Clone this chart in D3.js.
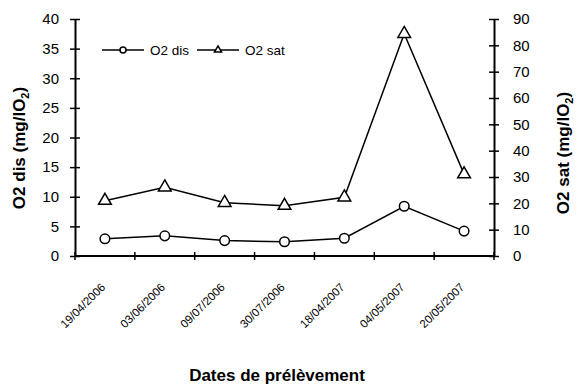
<!DOCTYPE html>
<html>
<head>
<meta charset="utf-8">
<script src="https://cdn.jsdelivr.net/npm/d3@7"></script>
<style>
  html, body { margin: 0; padding: 0; background: #fff; }
  svg { display: block; font-family: "Liberation Sans", Arial, sans-serif; }
</style>
</head>
<body>
<svg id="chart" width="577" height="386"></svg>
<script>
// Sampling dates and measured oxygen values
const dates = ["19/04/2006", "03/06/2006", "09/07/2006", "30/07/2006", "18/04/2007", "04/05/2007", "20/05/2007"];
const o2Dis = [2.9, 3.4, 2.6, 2.4, 3.0, 8.4, 4.2];
const o2Sat = [21.0, 26.1, 20.2, 19.1, 22.3, 84.4, 31.1];
const leftTicks = [0, 5, 10, 15, 20, 25, 30, 35, 40];
const rightTicks = [0, 10, 20, 30, 40, 50, 60, 70, 80, 90];

const svg = d3.select("#chart");
const plot = { left: 75, right: 494, top: 19, bottom: 256 };

const x = d3.scaleBand().domain(dates).range([plot.left, plot.right]);
const yL = d3.scaleLinear().domain([0, 40]).range([plot.bottom, plot.top]);
const yR = d3.scaleLinear().domain([0, 90]).range([plot.bottom, plot.top]);

// Axes: ticks cross the axis line on both sides
function styleAxis(g) {
  g.select(".domain").attr("stroke", "#000").attr("stroke-width", 2);
  g.selectAll(".tick line").attr("stroke", "#000").attr("stroke-width", 1.5);
}

const gL = svg.append("g").attr("transform", `translate(${plot.left},0)`)
  .call(d3.axisLeft(yL).tickValues(leftTicks).tickSize(0).tickPadding(16));
styleAxis(gL);
gL.selectAll(".tick line").attr("x1", -5).attr("x2", 5);
gL.selectAll(".tick text").attr("font-size", 15).attr("fill", "#000")
  .attr("font-family", "Liberation Sans, Arial, sans-serif");

const gR = svg.append("g").attr("transform", `translate(${plot.right},0)`)
  .call(d3.axisRight(yR).tickValues(rightTicks).tickSize(0).tickPadding(19));
styleAxis(gR);
gR.selectAll(".tick line").attr("x1", -5).attr("x2", 5);
gR.selectAll(".tick text").attr("font-size", 15).attr("fill", "#000")
  .attr("font-family", "Liberation Sans, Arial, sans-serif");

// Category boundaries carry the x ticks
const boundaries = dates.map(d => x(d)).concat([x.range()[1]]);
const gX = svg.append("g");
gX.append("line").attr("x1", plot.left).attr("x2", plot.right)
  .attr("y1", plot.bottom).attr("y2", plot.bottom)
  .attr("stroke", "#000").attr("stroke-width", 2);
gX.selectAll("line.tk").data(boundaries).join("line").attr("class", "tk")
  .attr("x1", d => d).attr("x2", d => d)
  .attr("y1", plot.bottom - 4).attr("y2", plot.bottom + 4)
  .attr("stroke", "#000").attr("stroke-width", 1.5);

const cx = d => x(d) + x.bandwidth() / 2;
gX.selectAll("text").data(dates).join("text")
  .attr("transform", d => `translate(${cx(d) + 1},${plot.bottom + 32}) rotate(-45)`)
  .attr("text-anchor", "end")
  .attr("font-size", 11.5)
  .text(d => d);

// Series lines and markers
const lineDis = d3.line().x((d, i) => cx(dates[i])).y(d => yL(d));
const lineSat = d3.line().x((d, i) => cx(dates[i])).y(d => yR(d));

svg.append("path").attr("d", lineDis(o2Dis))
  .attr("fill", "none").attr("stroke", "#000").attr("stroke-width", 1.5);
svg.append("path").attr("d", lineSat(o2Sat))
  .attr("fill", "none").attr("stroke", "#000").attr("stroke-width", 1.5);

svg.selectAll("circle.dis").data(o2Dis).join("circle").attr("class", "dis")
  .attr("cx", (d, i) => cx(dates[i])).attr("cy", d => yL(d)).attr("r", 4.8)
  .attr("fill", "#fff").attr("stroke", "#000").attr("stroke-width", 1.5);

const tri = d3.symbol().type(d3.symbolTriangle).size(70);
svg.selectAll("path.sat").data(o2Sat).join("path").attr("class", "sat")
  .attr("d", tri)
  .attr("transform", (d, i) => `translate(${cx(dates[i])},${yR(d)})`)
  .attr("fill", "#fff").attr("stroke", "#000").attr("stroke-width", 1.5);

// Legend
const leg = svg.append("g").attr("transform", "translate(0,50)");
leg.append("line").attr("x1", 102).attr("x2", 144).attr("stroke", "#000").attr("stroke-width", 1.5);
leg.append("circle").attr("cx", 123).attr("cy", 0).attr("r", 3)
  .attr("fill", "#fff").attr("stroke", "#000").attr("stroke-width", 1.5);
leg.append("text").attr("x", 150).attr("y", 5).attr("font-size", 13.5).text("O2 dis");
leg.append("line").attr("x1", 197).attr("x2", 239).attr("stroke", "#000").attr("stroke-width", 1.5);
leg.append("path").attr("d", d3.symbol().type(d3.symbolTriangle).size(22)())
  .attr("transform", "translate(218,0)")
  .attr("fill", "#fff").attr("stroke", "#000").attr("stroke-width", 1.5);
leg.append("text").attr("x", 245).attr("y", 5).attr("font-size", 13.5).text("O2 sat");

// Axis titles
function axisTitle(tx, ty, main) {
  const t = svg.append("text")
    .attr("transform", `translate(${tx},${ty}) rotate(-90)`)
    .attr("text-anchor", "middle")
    .attr("font-size", 17).attr("font-weight", "bold");
  t.append("tspan").text(main + " (mg/lO");
  t.append("tspan").attr("font-size", 11).attr("dy", 4).text("2");
  t.append("tspan").attr("dy", -4).text(")");
}
axisTitle(25, 148, "O2 dis");
axisTitle(569, 153, "O2 sat");

svg.append("text").attr("x", 277).attr("y", 381)
  .attr("text-anchor", "middle").attr("font-size", 17).attr("font-weight", "bold")
  .text("Dates de prélèvement");
</script>
</body>
</html>
